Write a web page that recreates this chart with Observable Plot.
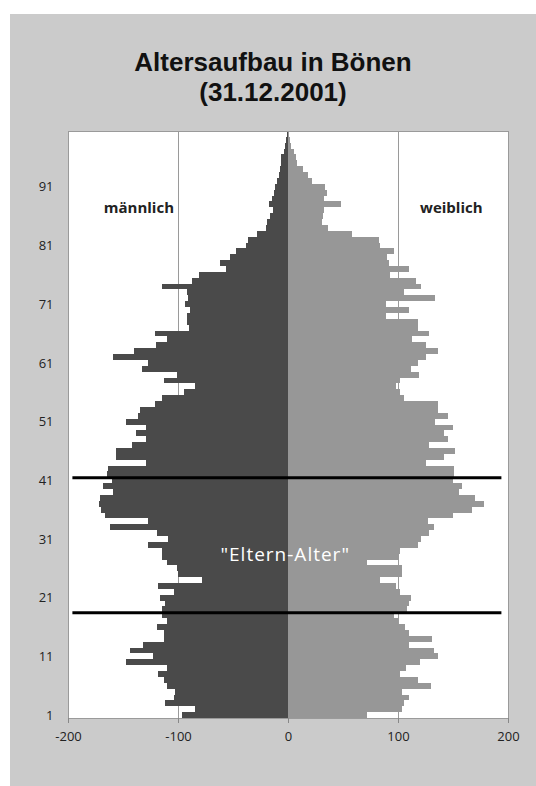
<!DOCTYPE html>
<html><head><meta charset="utf-8">
<script src="https://cdn.jsdelivr.net/npm/d3@7"></script>
<script src="https://cdn.jsdelivr.net/npm/@observablehq/plot@0.6"></script>
<style>
html,body{margin:0;padding:0;background:#fff;width:536px;height:786px;overflow:hidden;font-family:"Open Sans",sans-serif;}
#panel{position:absolute;left:10px;top:14px;width:526px;height:772px;background:#cbcbcb;}
#title{position:absolute;left:0;top:33px;width:526px;text-align:center;font-family:"Liberation Sans",Arial,sans-serif;font-weight:700;font-size:26px;line-height:30px;color:#111;}
#chart{position:absolute;left:0;top:86px;}
.eltern text{letter-spacing:1px;}
</style></head><body>
<div id="panel"><div id="title">Altersaufbau in Bönen<br>(31.12.2001)</div><div id="chart"></div></div>
<script>
const ages = [1,2,3,4,5,6,7,8,9,10,11,12,13,14,15,16,17,18,19,20,21,22,23,24,25,26,27,28,29,30,31,32,33,34,35,36,37,38,39,40,41,42,43,44,45,46,47,48,49,50,51,52,53,54,55,56,57,58,59,60,61,62,63,64,65,66,67,68,69,70,71,72,73,74,75,76,77,78,79,80,81,82,83,84,85,86,87,88,89,90,91,92,93,94,95,96,97,98,99,100];
const maennlich = [96,85,112,104,103,110,113,118,110,147,123,144,132,113,113,119,110,115,115,112,116,104,118,78,100,101,110,115,115,127,109,119,162,127,166,170,172,171,159,168,160,165,164,129,156,156,142,129,138,129,147,136,135,121,115,95,85,113,101,133,127,159,140,120,110,121,90,92,92,89,94,91,92,115,87,81,56,62,53,47,38,36,28,20,19,16,14,17,15,13,12,10,8,7,6,6,4,3,2,1];
const weiblich = [72,104,105,110,104,130,118,102,107,120,136,133,110,131,110,106,100,96,108,110,112,102,98,84,104,104,72,101,102,118,121,128,133,127,150,167,178,170,155,158,150,151,151,125,142,152,128,145,142,150,134,145,136,136,105,102,98,102,119,112,118,125,136,125,113,128,118,118,89,110,89,134,105,121,116,93,110,92,90,96,84,83,58,36,31,32,33,48,33,35,34,22,18,14,8,7,5,3,2,1];
const ageTicks = [1,11,21,31,41,51,61,71,81,91];
const xTicks = [-200,-100,0,100,200];
const grenzen = [18.5, 41.5];
const beschriftungen = [
  {text: "männlich", x: -136, y: 87.5},
  {text: "weiblich", x: 148, y: 87.5}
];
const elternLabel = [{text: "\"Eltern-Alter\"", x: -3, y: 28.3}];

const data = ages.map((a, i) => ({age: a, m: maennlich[i], w: weiblich[i]}));

const chart = Plot.plot({
  width: 526, height: 668,
  marginLeft: 58, marginRight: 28, marginTop: 31, marginBottom: 50,
  style: {background: "transparent", fontFamily: "Open Sans, sans-serif", fontSize: "13px", color: "#222"},
  x: {domain: [-200, 200]},
  y: {domain: [0.5, 100.5]},
  marks: [
    Plot.frame({fill: "white", stroke: "none"}),
    Plot.ruleX([-100, 100], {stroke: "#9a9a9a", strokeWidth: 1}),
    Plot.rectX(data, {x1: d => 0, x2: d => -d.m, y1: d => d.age - 0.5, y2: d => d.age + 0.5, fill: "#4a4a4a", shapeRendering: "crispEdges"}),
    Plot.rectX(data, {x1: d => 0, x2: d => d.w, y1: d => d.age - 0.5, y2: d => d.age + 0.5, fill: "#979797", shapeRendering: "crispEdges"}),
    Plot.ruleY(grenzen, {x1: d => -196, x2: d => 194, stroke: "#000", strokeWidth: 3}),
    Plot.text(beschriftungen, {x: "x", y: "y", text: "text", fontWeight: "bold", fontSize: 15, fill: "#222"}),
    Plot.text(elternLabel, {x: "x", y: "y", text: "text", fontSize: 19, fill: "#fff", className: "eltern"}),
    Plot.frame({stroke: "#9a9a9a"}),
    Plot.axisX({ticks: xTicks, tickSize: 5, tickPadding: 8, stroke: "#888", tickFormat: d => String(d), fontSize: 13, fill: "#222", label: null}),
    Plot.axisY({ticks: ageTicks, tickSize: 0, tickPadding: 15, tickFormat: d => String(d), fontSize: 13, fill: "#222", label: null})
  ]
});
document.getElementById("chart").appendChild(chart);
</script></body></html>
